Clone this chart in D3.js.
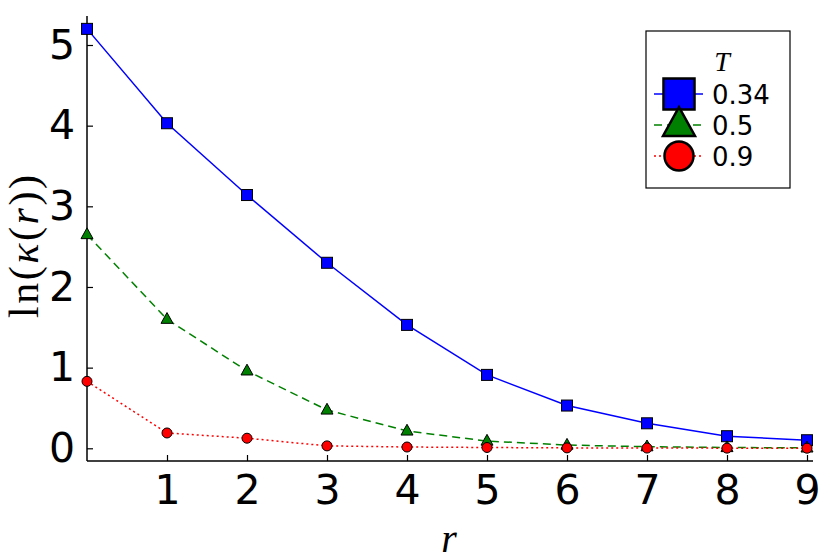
<!DOCTYPE html>
<html><head><meta charset="utf-8">
<script src="https://cdn.jsdelivr.net/npm/d3@7"></script>
<style>body{margin:0;background:#fff}svg{display:block}</style>
</head><body><svg id="c" width="830" height="554"></svg>
<script>
const rValues = [0,1,2,3,4,5,6,7,8,9];
const seriesNames = ["0.34","0.5","0.9"];
const kappaT034 = [5.20,4.03,3.14,2.30,1.53,0.91,0.53,0.31,0.15,0.10];
const kappaT05  = [2.65,1.60,0.96,0.475,0.215,0.09,0.04,0.02,0.01,0.005];
const kappaT09  = [0.83,0.19,0.125,0.03,0.016,0.01,0.005,0.003,0.002,0.001];
const xTicks = [1,2,3,4,5,6,7,8,9];
const yTicks = [0,1,2,3,4,5];

const svg = d3.select("#c");
const L=87, R=813, T=16, B=461;
const x = d3.scaleLinear().domain([0,9.075]).range([L,R]);
const y = d3.scaleLinear().domain([0,5]).range([448.3,45]);

const series = [
  {name:seriesNames[0], vals:kappaT034, color:"#0000ff", dash:null, shape:"square"},
  {name:seriesNames[1], vals:kappaT05, color:"#008000", dash:"8,5", shape:"triangle"},
  {name:seriesNames[2], vals:kappaT09, color:"#ff0000", dash:"2,3", shape:"circle"}
];

// axes
const xAxis = d3.axisBottom(x).tickValues(xTicks).tickSize(-6).tickPadding(14).tickFormat(d3.format("d"));
const gx = svg.append("g").attr("transform",`translate(0,${B})`).call(xAxis);
gx.select(".domain").attr("d",`M${L},0H${R}`).attr("stroke","#000").attr("stroke-width",1.5);
gx.selectAll(".tick line").attr("stroke","#000").attr("stroke-width",1.2);
gx.selectAll(".tick text").attr("font-family","DejaVu Sans").attr("font-size",41).attr("fill","#000").attr("dy","0.71em");

const yAxis = d3.axisLeft(y).tickValues(yTicks).tickSize(-6).tickPadding(12).tickFormat(d3.format("d"));
const gy = svg.append("g").attr("transform",`translate(${L},0)`).call(yAxis);
gy.select(".domain").attr("d",`M0,${T}V${B}`).attr("stroke","#000").attr("stroke-width",1.5);
gy.selectAll(".tick line").attr("stroke","#000").attr("stroke-width",1.2);
gy.selectAll(".tick text").attr("font-family","DejaVu Sans").attr("font-size",41).attr("fill","#000");

function marker(sel, shape, s, color, sw){
  if(shape==="square") return sel.append("rect").attr("x",-s/2).attr("y",-s/2).attr("width",s).attr("height",s).attr("fill",color).attr("stroke","#000").attr("stroke-width",sw);
  if(shape==="triangle"){ const h=s*0.9; return sel.append("path").attr("d",`M0,${-h*0.62}L${s/2},${h*0.38}L${-s/2},${h*0.38}Z`).attr("fill",color).attr("stroke","#000").attr("stroke-width",sw);}
  return sel.append("circle").attr("r",s/2).attr("fill",color).attr("stroke","#000").attr("stroke-width",sw);
}

const line = d3.line().x((d,i)=>x(rValues[i])).y(d=>y(d));
series.forEach(s=>{
  svg.append("path").datum(s.vals).attr("d",line).attr("fill","none").attr("stroke",s.color).attr("stroke-width",1.5).attr("stroke-dasharray",s.dash);
});
series.forEach(s=>{
  s.vals.forEach((v,i)=>{
    const g = svg.append("g").attr("transform",`translate(${x(rValues[i])},${y(v)})`);
    marker(g, s.shape, s.shape==="circle"?10:(s.shape==="triangle"?12:11), s.color, 1);
  });
});

// legend
const lg = svg.append("g");
lg.append("rect").attr("x",646).attr("y",31).attr("width",144).attr("height",157).attr("fill","#fff").attr("stroke","#000").attr("stroke-width",1.2);
lg.append("text").attr("x",722).attr("y",71).attr("text-anchor","middle").attr("font-family","Liberation Serif").attr("font-style","italic").attr("font-size",28).text("T");
const ly = [94,125,156];
series.forEach((s,i)=>{
  lg.append("line").attr("x1",654).attr("x2",703).attr("y1",ly[i]).attr("y2",ly[i]).attr("stroke",s.color).attr("stroke-width",1.5).attr("stroke-dasharray",s.dash);
});
series.forEach((s,i)=>{
  const g = lg.append("g").attr("transform",`translate(679,${ly[i]})`);
  marker(g, s.shape, s.shape==="circle"?29:(s.shape==="triangle"?32:31), s.color, 2.5);
  lg.append("text").attr("x",712).attr("y",ly[i]+9.5).attr("font-family","DejaVu Sans").attr("font-size",26).text(s.name);
});

// axis labels
const yl = svg.append("text").attr("transform","translate(38,246.5) rotate(-90)").attr("text-anchor","middle").attr("font-family","Liberation Serif").attr("font-size",42).attr("textLength",143).attr("lengthAdjust","spacing");
yl.append("tspan").text("ln(");
yl.append("tspan").attr("font-style","italic").text("κ");
yl.append("tspan").text("(");
yl.append("tspan").attr("font-style","italic").text("r");
yl.append("tspan").text("))");
svg.append("text").attr("x",449).attr("y",552).attr("text-anchor","middle").attr("font-family","Liberation Serif").attr("font-style","italic").attr("font-size",40).text("r");
</script></body></html>
